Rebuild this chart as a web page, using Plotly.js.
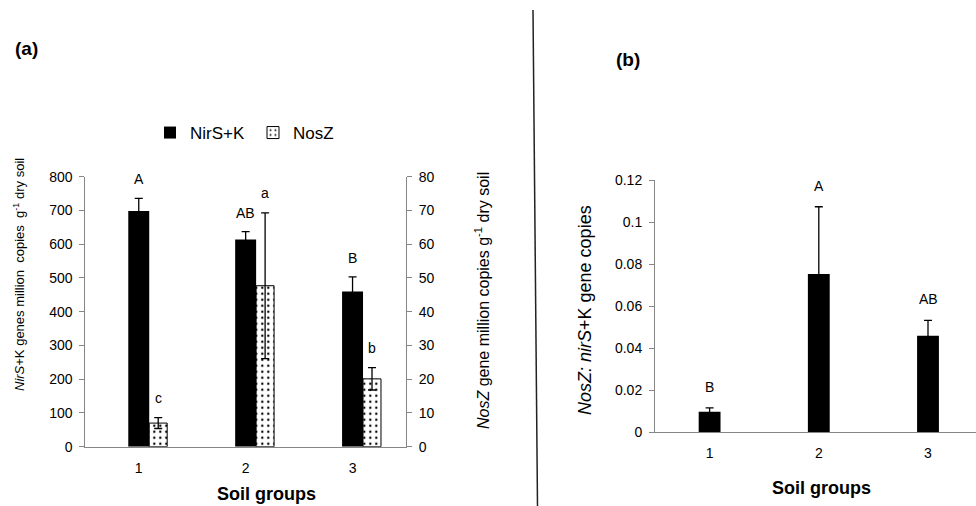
<!DOCTYPE html>
<html>
<head>
<meta charset="utf-8">
<script src="https://cdn.plot.ly/plotly-3.0.1.min.js"></script>
<style>html,body{margin:0;padding:0;background:#fff;}#chart{width:976px;height:506px;}</style>
</head>
<body>
<div id="chart"></div>
<script>
// ---- data ----
const soilGroups = [1, 2, 3];
const nirsValues = [698, 614, 460];
const nirsErrors = [38, 23, 43];
const nirsLetters = ['A', 'AB', 'B'];
const noszValues = [7.0, 47.7, 20.1];
const noszErrors = [1.6, 21.6, 3.3];
const noszLetters = ['c', 'a', 'b'];
const ratioValues = [0.0098, 0.0754, 0.046];
const ratioErrors = [0.0018, 0.032, 0.0073];
const ratioLetters = ['B', 'A', 'AB'];
const leftTicks = [0, 100, 200, 300, 400, 500, 600, 700, 800];
const rightTicks = [0, 10, 20, 30, 40, 50, 60, 70, 80];
const ratioTicks = [0, 0.02, 0.04, 0.06, 0.08, 0.1, 0.12];
const ratioTickText = ['0', '0.02', '0.04', '0.06', '0.08', '0.1', '0.12'];

const FONT = 'Liberation Sans, Arial, sans-serif';
const AX = '#868686';

const errStyle = {type: 'data', visible: true, color: '#000', thickness: 1.3, width: 4};

const traces = [
  {
    type: 'bar', name: 'NirS+K', x: soilGroups, y: nirsValues,
    width: 0.196, offset: -0.098,
    marker: {color: '#000', line: {color: '#000', width: 0}},
    error_y: Object.assign({array: nirsErrors}, errStyle),
    xaxis: 'x', yaxis: 'y', showlegend: true
  },
  {
    type: 'bar', name: 'NosZ', x: soilGroups, y: noszValues,
    width: 0.168, offset: 0.098,
    marker: {color: '#fff', line: {color: '#000', width: 1},
             pattern: {shape: '.', fgcolor: '#000', bgcolor: '#fff', size: 6, solidity: 0.12}},
    error_y: Object.assign({array: noszErrors}, errStyle),
    xaxis: 'x', yaxis: 'y2', showlegend: true
  },
  {
    type: 'bar', name: 'NosZ:nirS+K', x: soilGroups, y: ratioValues,
    width: 0.2, offset: -0.1,
    marker: {color: '#000', line: {color: '#000', width: 0}},
    error_y: Object.assign({array: ratioErrors}, errStyle),
    xaxis: 'x2', yaxis: 'y3', showlegend: false
  }
];

const annotations = [];
// significance letters
soilGroups.forEach((g, i) => {
  annotations.push({x: g, y: nirsValues[i] + nirsErrors[i], xref: 'x', yref: 'y', text: nirsLetters[i],
    showarrow: false, yanchor: 'middle', yshift: 19, font: {family: FONT, size: 14, color: '#000'}});
  annotations.push({x: g + 0.182, y: noszValues[i] + noszErrors[i], xref: 'x', yref: 'y2', text: noszLetters[i],
    showarrow: false, yanchor: 'middle', yshift: 20, font: {family: FONT, size: 14, color: '#000'}});
  annotations.push({x: g, y: ratioValues[i] + ratioErrors[i], xref: 'x2', yref: 'y3', text: ratioLetters[i],
    showarrow: false, yanchor: 'middle', yshift: 21, font: {family: FONT, size: 14, color: '#000'}});
});
function px(x) { return x / 976; }
function py(y) { return 1 - y / 506; }
// panel labels and axis titles
annotations.push(
  {x: px(13), y: py(48), xref: 'paper', yref: 'paper', xanchor: 'left', yanchor: 'middle', showarrow: false,
   text: '<b>(a)</b>', font: {family: FONT, size: 19, color: '#000'}},
  {x: px(614), y: py(60), xref: 'paper', yref: 'paper', xanchor: 'left', yanchor: 'middle', showarrow: false,
   text: '<b>(b)</b>', font: {family: FONT, size: 19, color: '#000'}},
  {x: px(266), y: py(494), xref: 'paper', yref: 'paper', xanchor: 'center', yanchor: 'middle', showarrow: false,
   text: '<b>Soil groups</b>', font: {family: FONT, size: 18, color: '#000'}},
  {x: px(821), y: py(488), xref: 'paper', yref: 'paper', xanchor: 'center', yanchor: 'middle', showarrow: false,
   text: '<b>Soil groups</b>', font: {family: FONT, size: 18, color: '#000'}},
  {x: px(19), y: py(275), xref: 'paper', yref: 'paper', xanchor: 'center', yanchor: 'middle', showarrow: false, textangle: -90,
   text: '<i>NirS</i>+K genes million  copies  g<sup>-1</sup> dry soil', font: {family: FONT, size: 13, color: '#000'}},
  {x: px(482), y: py(301), xref: 'paper', yref: 'paper', xanchor: 'center', yanchor: 'middle', showarrow: false, textangle: -90,
   text: '<i>NosZ</i> gene million copies g<sup>-1</sup> dry soil', font: {family: FONT, size: 16, color: '#000'}},
  {x: px(585), y: py(310), xref: 'paper', yref: 'paper', xanchor: 'center', yanchor: 'middle', showarrow: false, textangle: -90,
   text: '<i>NosZ:</i> <i>nirS</i>+K gene copies', font: {family: FONT, size: 18, color: '#000'}}
);

const tickFont = {family: FONT, size: 14, color: '#000'};

const layout = {
  width: 976, height: 506,
  margin: {l: 0, r: 0, t: 0, b: 0},
  paper_bgcolor: '#fff', plot_bgcolor: 'rgba(0,0,0,0)',
  font: {family: FONT, color: '#000'},
  barmode: 'overlay',
  showlegend: true,
  legend: {orientation: 'h', x: px(253), y: py(133), xanchor: 'center', yanchor: 'middle',
           font: {family: FONT, size: 17, color: '#000'}, itemwidth: 30, entrywidth: 58, entrywidthmode: 'pixels',
           tracegroupgap: 0, bgcolor: 'rgba(0,0,0,0)'},
  xaxis: {domain: [px(85.3), px(406)], range: [0.5, 3.5], tickvals: soilGroups, ticktext: soilGroups.map(String),
          showline: true, linecolor: AX, linewidth: 1, ticks: '', showgrid: false, zeroline: false,
          tickfont: tickFont, ticklabelstandoff: 8, anchor: 'y', fixedrange: true},
  yaxis: {domain: [py(446.7), py(176.7)], range: [0, 800], tickvals: leftTicks,
          showline: true, linecolor: AX, linewidth: 1, ticks: 'outside', ticklen: 5, tickcolor: AX,
          showgrid: false, zeroline: false, tickfont: tickFont, ticklabelstandoff: 4, anchor: 'x'},
  yaxis2: {overlaying: 'y', side: 'right', range: [0, 80], tickvals: rightTicks, anchor: 'x',
           showline: true, linecolor: AX, linewidth: 1, ticks: 'outside', ticklen: 5, tickcolor: AX,
           showgrid: false, zeroline: false, tickfont: tickFont, ticklabelstandoff: 4},
  xaxis2: {domain: [px(655), 1], range: [0.5, 0.5 + (976 - 655) / 109.2], tickvals: soilGroups, ticktext: soilGroups.map(String),
           showline: true, linecolor: AX, linewidth: 1, ticks: '', showgrid: false, zeroline: false,
           tickfont: tickFont, ticklabelstandoff: 8, anchor: 'y3'},
  yaxis3: {domain: [py(432.3), py(180.3)], range: [0, 0.12], tickvals: ratioTicks, ticktext: ratioTickText,
           showline: true, linecolor: AX, linewidth: 1, ticks: 'outside', ticklen: 5, tickcolor: AX,
           showgrid: false, zeroline: false, tickfont: tickFont, ticklabelstandoff: 4, anchor: 'x2'},
  annotations: annotations,
  shapes: [
    {type: 'line', xref: 'paper', yref: 'paper', x0: px(533), y0: py(10), x1: px(537.5), y1: 0,
     line: {color: '#222', width: 1.5}}
  ]
};

Plotly.newPlot('chart', traces, layout, {displayModeBar: false, staticPlot: true});
</script>
</body>
</html>
